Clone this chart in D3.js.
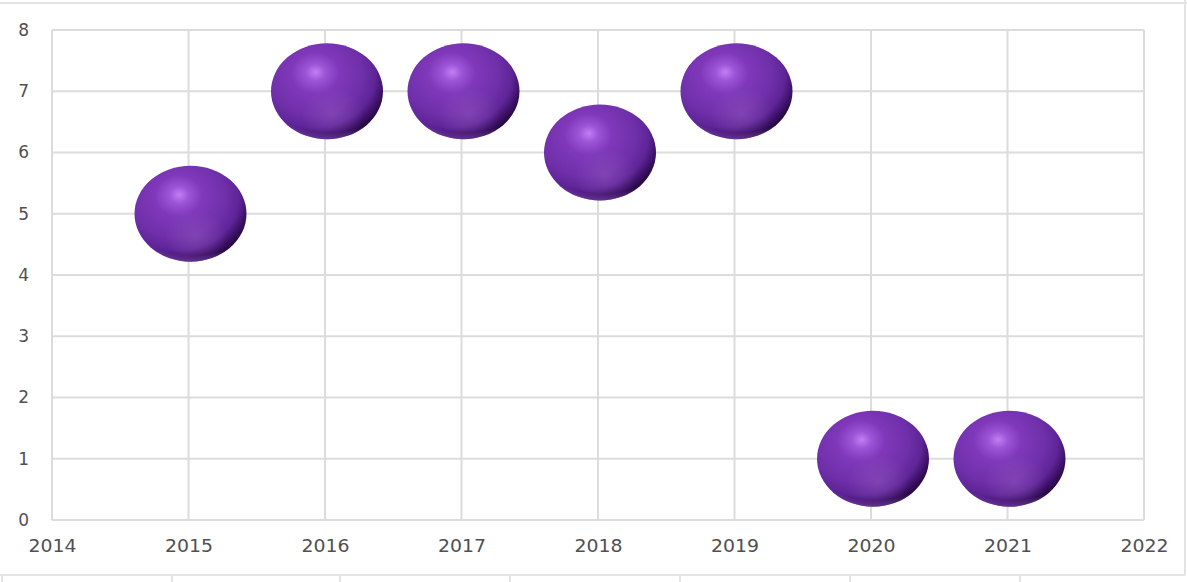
<!DOCTYPE html>
<html>
<head>
<meta charset="utf-8">
<script src="https://cdn.jsdelivr.net/npm/d3@7"></script>
<style>
html,body{margin:0;padding:0;background:#fff;}
svg{display:block;}
</style>
</head>
<body>
<svg id="chart" width="1187" height="582"></svg>
<script>
const years = [2015, 2016, 2017, 2018, 2019, 2020, 2021];
const values = [5, 7, 7, 6, 7, 1, 1];
const xTicks = [2014, 2015, 2016, 2017, 2018, 2019, 2020, 2021, 2022];
const yTicks = [0, 1, 2, 3, 4, 5, 6, 7, 8];

const W = 1187, H = 582;
const svg = d3.select("#chart");
const m = {left: 52, right: 1144, top: 30, bottom: 520};

const x = d3.scaleLinear().domain([2014, 2022]).range([m.left, m.right]);
const y = d3.scaleLinear().domain([0, 8]).range([m.bottom, m.top]);

// spreadsheet cell borders around the chart
const sheet = svg.append("g").attr("stroke", "#e3e3e3").attr("stroke-width", 2).attr("fill", "none");
sheet.append("line").attr("x1", 0).attr("x2", W).attr("y1", 3).attr("y2", 3);
sheet.append("line").attr("x1", 1185).attr("x2", 1185).attr("y1", 0).attr("y2", 575);
sheet.append("line").attr("x1", 0).attr("x2", 1185).attr("y1", 575).attr("y2", 575);
[2, 172, 340, 510, 680, 850, 1020].forEach(px => {
  sheet.append("line").attr("x1", px).attr("x2", px).attr("y1", 575).attr("y2", H);
});

// gridlines
const grid = svg.append("g").attr("stroke", "#dcdcdc").attr("stroke-width", 2);
grid.selectAll("line.h").data(yTicks).enter().append("line")
  .attr("x1", m.left).attr("x2", m.right)
  .attr("y1", d => y(d)).attr("y2", d => y(d));
grid.selectAll("line.v").data(xTicks).enter().append("line")
  .attr("y1", m.top).attr("y2", m.bottom)
  .attr("x1", d => x(d)).attr("x2", d => x(d));

// axes via d3 axis generators, styled to match
const yAxis = svg.append("g").attr("transform", `translate(${m.left},0)`)
  .call(d3.axisLeft(y).tickValues(yTicks).tickSize(0).tickPadding(23).tickFormat(d3.format("d")));
const xAxis = svg.append("g").attr("transform", `translate(0,${m.bottom})`)
  .call(d3.axisBottom(x).tickValues(xTicks).tickSize(0).tickPadding(20).tickFormat(d3.format("d")));
[yAxis, xAxis].forEach(a => {
  a.select(".domain").remove();
  a.selectAll("text").attr("fill", "#505050")
    .style("font-family", "'DejaVu Sans', sans-serif").style("font-size", "17px");
});
xAxis.selectAll("text").attr("textLength", 48).attr("lengthAdjust", "spacingAndGlyphs");

// gradients for 3D bubbles
const defs = svg.append("defs");
const g1 = defs.append("radialGradient").attr("id", "ball")
  .attr("cx", "38%").attr("cy", "34%").attr("r", "72%")
  .attr("fx", "40%").attr("fy", "30%");
[["0%", "#c27ff2"], ["12%", "#9d55d8"], ["30%", "#7f38ba"], ["58%", "#7030aa"], ["76%", "#5f2598"], ["88%", "#3c1066"], ["100%", "#1a0530"]]
  .forEach(s => g1.append("stop").attr("offset", s[0]).attr("stop-color", s[1]));
const g2 = defs.append("radialGradient").attr("id", "rim")
  .attr("cx", "50%").attr("cy", "20%").attr("r", "88%").attr("fx", "62%").attr("fy", "25%");
[["0%", "#a45ee0", 0], ["82%", "#a45ee0", 0], ["93%", "#a866e0", 0.6], ["100%", "#b57ae8", 0.85]]
  .forEach(s => g2.append("stop").attr("offset", s[0]).attr("stop-color", s[1]).attr("stop-opacity", s[2]));
const g3 = defs.append("radialGradient").attr("id", "glow")
  .attr("cx", "55%").attr("cy", "74%").attr("r", "28%");
[["0%", "#9a62c4", 0.4], ["100%", "#9a62c4", 0]]
  .forEach(s => g3.append("stop").attr("offset", s[0]).attr("stop-color", s[1]).attr("stop-opacity", s[2]));

const rx = 56, ry = 48;
const pts = years.map((yr, i) => ({yr, v: values[i]}));
const bubbles = svg.append("g").selectAll("g").data(pts).enter().append("g")
  .attr("transform", d => `translate(${x(d.yr) + 2},${y(d.v)})`);
bubbles.append("ellipse").attr("rx", rx).attr("ry", ry).attr("fill", "url(#ball)");
bubbles.append("ellipse").attr("rx", rx).attr("ry", ry).attr("fill", "url(#glow)");
bubbles.append("ellipse").attr("rx", rx).attr("ry", ry).attr("fill", "url(#rim)");
</script>
</body>
</html>
